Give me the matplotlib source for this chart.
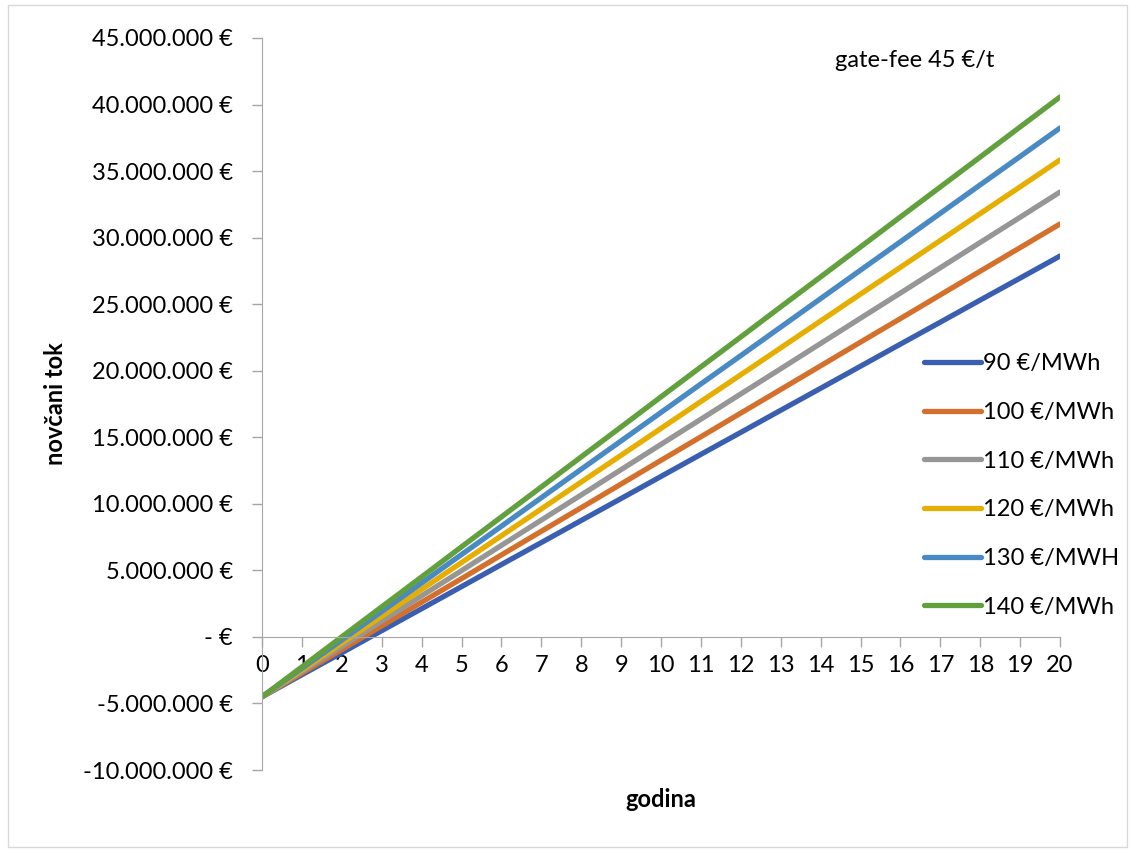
import matplotlib.pyplot as plt
from matplotlib.patches import Rectangle
from matplotlib.ticker import FuncFormatter, MultipleLocator

plt.rcParams['font.family'] = ['Lato', 'DejaVu Sans']

# godine
years = list(range(0, 21))

# novčani tok po godinama (mil. €), očitano s grafa
tok_90 = [-4.50, -2.84, -1.19, 0.47, 2.12, 3.78, 5.44, 7.09, 8.75, 10.40, 12.06,
          13.72, 15.37, 17.03, 18.68, 20.34, 22.00, 23.65, 25.31, 26.96, 28.62]
tok_100 = [-4.50, -2.72, -0.95, 0.83, 2.61, 4.38, 6.16, 7.94, 9.71, 11.49, 13.27,
           15.04, 16.82, 18.59, 20.37, 22.15, 23.92, 25.70, 27.48, 29.25, 31.03]
tok_110 = [-4.50, -2.60, -0.71, 1.19, 3.09, 4.98, 6.88, 8.78, 10.67, 12.57, 14.47,
           16.36, 18.26, 20.15, 22.05, 23.95, 25.84, 27.74, 29.64, 31.53, 33.43]
tok_120 = [-4.50, -2.48, -0.47, 1.55, 3.57, 5.59, 7.60, 9.62, 11.64, 13.65, 15.67,
           17.69, 19.70, 21.72, 23.74, 25.76, 27.77, 29.79, 31.81, 33.82, 35.84]
tok_130 = [-4.50, -2.36, -0.23, 1.91, 4.05, 6.19, 8.32, 10.46, 12.60, 14.73, 16.87,
           19.01, 21.14, 23.28, 25.42, 27.56, 29.69, 31.83, 33.97, 36.10, 38.24]
tok_140 = [-4.50, -2.25, 0.01, 2.26, 4.51, 6.77, 9.02, 11.27, 13.53, 15.78, 18.04,
           20.29, 22.54, 24.80, 27.05, 29.30, 31.56, 33.81, 36.06, 38.32, 40.57]

labels = ['90 €/MWh', '100 €/MWh', '110 €/MWh', '120 €/MWh', '130 €/MWH', '140 €/MWh']
colors = ['#3A5FB0', '#D4702B', '#969696', '#E6AE00', '#4A8AC4', '#62A03E']
series = [tok_90, tok_100, tok_110, tok_120, tok_130, tok_140]

fig = plt.figure(figsize=(11.3, 8.5), dpi=100)
ax = fig.add_axes([0.2319, 0.0941, 0.7062, 0.8612])

for vals, lab, col in zip(series, labels, colors):
    ax.plot(years, [v * 1e6 for v in vals], color=col, lw=3.8, label=lab,
            solid_capstyle='round')

ax.set_xlim(0, 20)
ax.set_ylim(-10e6, 45e6)
ax.xaxis.set_major_locator(MultipleLocator(1))
ax.yaxis.set_major_locator(MultipleLocator(5e6))


def fmt(v, pos):
    if abs(v) < 1:
        return '- €'
    return '{:,.0f} €'.format(v).replace(',', '.')


ax.yaxis.set_major_formatter(FuncFormatter(fmt))

for s in ['top', 'right']:
    ax.spines[s].set_visible(False)
ax.spines['bottom'].set_position(('data', 0))
ax.spines['left'].set_color('#A6A6A6')
ax.spines['bottom'].set_color('#A6A6A6')
ax.tick_params(axis='both', colors='#A6A6A6', labelcolor='black', labelsize=17, width=1)
ax.tick_params(axis='y', length=7, pad=14)
ax.tick_params(axis='x', length=7, direction='out', pad=6)

ax.set_xlabel('godina', fontsize=17, fontweight='bold', labelpad=0)
ax.xaxis.set_label_coords(0.5, -0.025)
ax.set_ylabel('novčani tok', fontsize=17, fontweight='bold')
ax.yaxis.set_label_coords(-0.245, 0.5)

ax.text(0.718, 0.96, 'gate-fee 45 €/t', transform=ax.transAxes, fontsize=17)

ax.legend(loc='upper left', bbox_to_anchor=(0.818, 0.582), frameon=False,
          fontsize=17, handlelength=2.4, handletextpad=0.1, labelspacing=1.17,
          borderaxespad=0)

fig.patches.append(Rectangle((0.007, 0.004), 0.99, 0.99, transform=fig.transFigure,
                             fill=False, edgecolor='#D9D9D9', lw=1))

fig.savefig('out.png', dpi=100)
